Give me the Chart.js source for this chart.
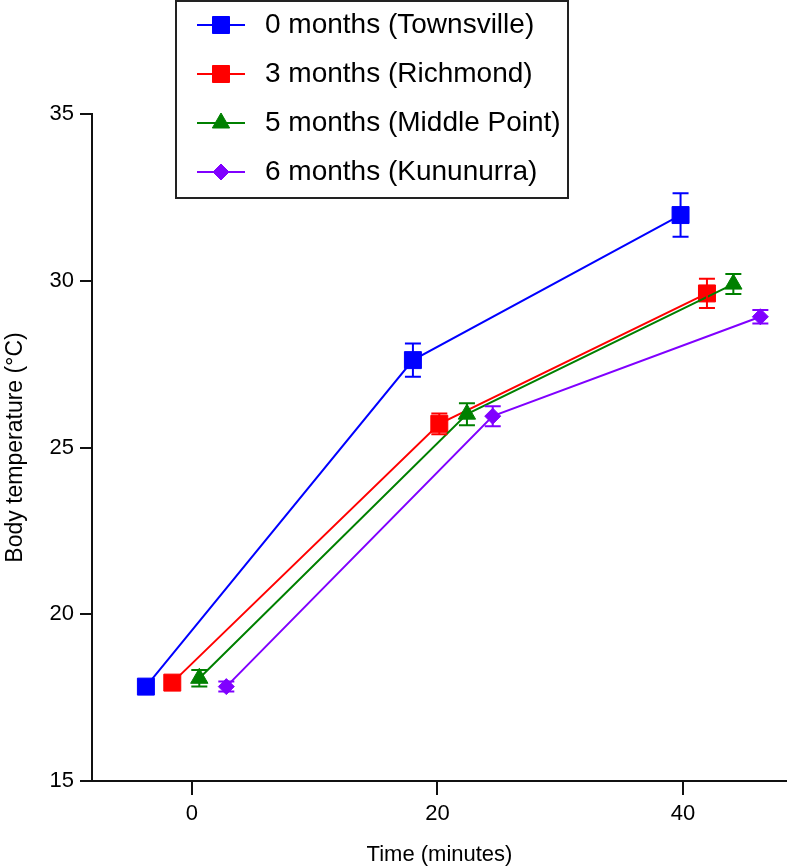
<!DOCTYPE html>
<html>
<head>
<meta charset="utf-8">
<script src="https://cdn.jsdelivr.net/npm/chart.js"></script>
<style>
  body { margin: 0; background: #fff; }
  #wrap { width: 787px; height: 868px; }
</style>
</head>
<body>
<div id="wrap"><canvas id="tempChart" width="787" height="868"></canvas></div>
<script>
// series (time positions are dodged slightly per group, as in the figure)
const seriesLabels = ['0 months (Townsville)', '3 months (Richmond)', '5 months (Middle Point)', '6 months (Kununurra)'];
const seriesColors = ['#0000ff', '#ff0000', '#008000', '#8000ff'];
const seriesMarkers = ['rect', 'rect', 'triangle', 'rectRot'];
const markerRadii = [12, 12, 10, 8];

const townsvilleTime = [-3.75, 18.0, 39.8];
const townsvilleTemp = [17.83, 27.62, 31.97];
const townsvilleErr = [0.15, 0.5, 0.65];

const richmondTime = [-1.6, 20.15, 41.95];
const richmondTemp = [17.95, 25.71, 29.62];
const richmondErr = [0.15, 0.31, 0.44];

const middlePointTime = [0.6, 22.4, 44.1];
const middlePointTemp = [18.08, 26.0, 29.9];
const middlePointErr = [0.25, 0.33, 0.3];

const kununurraTime = [2.8, 24.5, 46.3];
const kununurraTemp = [17.83, 25.94, 28.92];
const kununurraErr = [0.15, 0.3, 0.2];

const xTicks = [0, 20, 40];
const yTicks = [15, 20, 25, 30, 35];

const seriesTime = [townsvilleTime, richmondTime, middlePointTime, kununurraTime];
const seriesTemp = [townsvilleTemp, richmondTemp, middlePointTemp, kununurraTemp];
const seriesErr = [townsvilleErr, richmondErr, middlePointErr, kununurraErr];

const FONT = '"Liberation Sans", Arial, Helvetica, sans-serif';

// エラーバー描画
const errorBarPlugin = {
    id: 'errorBars',
    afterDatasetsDraw(chart) {
        const {ctx, scales: {x, y}} = chart;
        const cap = 8;
        chart.data.datasets.forEach((ds) => {
            ctx.save();
            ctx.strokeStyle = ds.borderColor;
            ctx.lineWidth = 2;
            ds.data.forEach((p, j) => {
                const e = ds.errors[j];
                const px = x.getPixelForValue(p.x);
                const top = y.getPixelForValue(p.y + e);
                const bot = y.getPixelForValue(p.y - e);
                ctx.beginPath();
                ctx.moveTo(px, top); ctx.lineTo(px, bot);
                ctx.moveTo(px - cap, top); ctx.lineTo(px + cap, top);
                ctx.moveTo(px - cap, bot); ctx.lineTo(px + cap, bot);
                ctx.stroke();
            });
            ctx.restore();
        });
    }
};

// 枠付き凡例（線＋マーカー）
const boxLegendPlugin = {
    id: 'boxLegend',
    afterDraw(chart, args, opts) {
        const {ctx} = chart;
        ctx.save();
        ctx.fillStyle = '#fff';
        ctx.fillRect(opts.left, opts.top, opts.width, opts.height);
        ctx.lineWidth = 2;
        ctx.strokeStyle = '#222';
        ctx.strokeRect(opts.left, opts.top, opts.width, opts.height);
        ctx.font = `${opts.fontSize}px ${FONT}`;
        ctx.textBaseline = 'middle';
        chart.data.datasets.forEach((ds, i) => {
            const cy = opts.top + opts.firstRow + i * opts.rowGap;
            ctx.strokeStyle = ds.borderColor;
            ctx.lineWidth = 2;
            ctx.beginPath();
            ctx.moveTo(opts.left + opts.lineStart, cy);
            ctx.lineTo(opts.left + opts.lineEnd, cy);
            ctx.stroke();
            ctx.fillStyle = ds.backgroundColor;
            ctx.lineWidth = 1;
            Chart.helpers.drawPoint(ctx, {
                pointStyle: ds.pointStyle, radius: ds.pointRadius, rotation: 0, borderWidth: 1
            }, opts.left + (opts.lineStart + opts.lineEnd) / 2, cy);
            ctx.fillStyle = '#000';
            ctx.fillText(ds.label, opts.left + opts.textX, cy);
        });
        ctx.restore();
    }
};

const datasets = seriesLabels.map((label, i) => ({
    label: label,
    data: seriesTime[i].map((t, j) => ({x: t, y: seriesTemp[i][j]})),
    errors: seriesErr[i],
    borderColor: seriesColors[i],
    backgroundColor: seriesColors[i],
    borderWidth: 2,
    pointStyle: seriesMarkers[i],
    pointRadius: markerRadii[i],
    pointBorderWidth: 1,
    order: seriesLabels.length - i,
    tension: 0
}));

const axisTicks = (values) => (scale) => {
    scale.ticks = values.map(v => ({value: v}));
};

new Chart(document.getElementById('tempChart').getContext('2d'), {
    type: 'line',
    data: {datasets: datasets},
    options: {
        responsive: false,
        animation: false,
        layout: {autoPadding: false, padding: {top: 114, right: 0, bottom: 0, left: 0}},
        scales: {
            x: {
                type: 'linear',
                min: -8.14,
                max: 48.47,
                afterBuildTicks: axisTicks(xTicks),
                afterFit: (scale) => { scale.height = 87; },
                border: {display: true, color: '#111', width: 2},
                grid: {display: true, drawOnChartArea: false, drawTicks: true, tickLength: 14, tickColor: '#111', lineWidth: 2},
                ticks: {color: '#000', padding: 6, maxRotation: 0, font: {family: FONT, size: 22}},
                title: {display: true, text: 'Time (minutes)', color: '#000', padding: {top: 0, bottom: 0}, font: {family: FONT, size: 22}}
            },
            y: {
                min: 15,
                max: 35,
                afterBuildTicks: axisTicks(yTicks),
                afterFit: (scale) => { scale.width = 92; },
                border: {display: true, color: '#111', width: 2},
                grid: {display: true, drawOnChartArea: false, drawTicks: true, tickLength: 12, tickColor: '#111', lineWidth: 2},
                ticks: {color: '#000', padding: 6, font: {family: FONT, size: 22}},
                title: {display: true, text: 'Body temperature (°C)', color: '#000', padding: {top: 2, bottom: 0}, font: {family: FONT, size: 23}}
            }
        },
        plugins: {
            legend: {display: false},
            tooltip: {enabled: false},
            boxLegend: {
                left: 176, top: 1, width: 392, height: 197,
                firstRow: 24, rowGap: 49,
                lineStart: 21, lineEnd: 69, textX: 89,
                fontSize: 28
            }
        }
    },
    plugins: [errorBarPlugin, boxLegendPlugin]
});
</script>
</body>
</html>
